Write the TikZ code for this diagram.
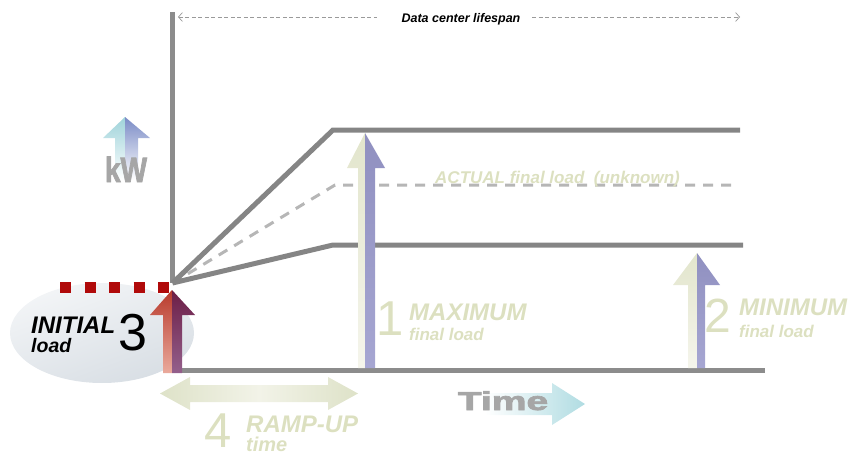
\documentclass[tikz,border=0pt]{standalone}
\usepackage{fontspec}
\setmainfont{Liberation Sans}
\newfontfamily\heavyfont{Liberation Sans}[BoldFeatures={FakeBold=2.5}]
\usetikzlibrary{arrows.meta}

\definecolor{axisgray}{HTML}{8C8C8C}
\definecolor{linegray}{HTML}{858585}
\definecolor{dashgray}{HTML}{B6B6B6}
\definecolor{spangray}{HTML}{9A9A9A}
\definecolor{pale}{HTML}{DCE0C0}
\definecolor{loadred}{HTML}{B00A0A}
\definecolor{ellA}{HTML}{F3F5F7}
\definecolor{ellB}{HTML}{D8DEE4}
\definecolor{creamA}{HTML}{E2E5CC}
\definecolor{creamB}{HTML}{F5F5EC}
\definecolor{lavA}{HTML}{9090C0}
\definecolor{lavB}{HTML}{A6A6D2}
\definecolor{redA}{HTML}{B83A2C}
\definecolor{redB}{HTML}{EAAA9C}
\definecolor{plumA}{HTML}{6C1E46}
\definecolor{plumB}{HTML}{94608C}
\definecolor{cyanA}{HTML}{9FD3DA}
\definecolor{blueA}{HTML}{7A8BC6}
\definecolor{timecyan}{HTML}{B0DCE2}
\definecolor{rampA}{HTML}{DEE2C8}
\definecolor{rampB}{HTML}{F2F3E8}
\definecolor{heavygray}{HTML}{A6A6A6}

\begin{document}
\begin{tikzpicture}[x=1pt,y=-1pt,
  axisline/.style={draw=axisgray,line width=5pt},
  graphline/.style={draw=linegray,line width=5pt},
  estline/.style={draw=dashgray,line width=3pt,dash pattern=on 10pt off 8pt},
  spanline/.style={draw=spangray,line width=0.7pt,dash pattern=on 4pt off 2.5pt},
  label/.style={inner sep=0pt,anchor=base west,text=pale},
  bignum/.style={inner sep=0pt,anchor=base,text=pale},
]
\useasboundingbox (0,0) rectangle (855,455);

% initial-load ellipse
\shade[top color=ellA,bottom color=ellB,shading angle=20] (102,333) ellipse [x radius=92, y radius=50];

% key points of the load curves
\coordinate (origin) at (172.5,283);
\coordinate (maxknee) at (333,130);
\coordinate (maxend) at (740,130);
\coordinate (estknee) at (335,185);
\coordinate (estend) at (733,185);
\coordinate (minknee) at (333,245);
\coordinate (minend) at (743,245);
\coordinate (ytop) at (172.5,12);
\coordinate (xleft) at (172,370.5);
\coordinate (xright) at (765,370.5);

% axes
\draw[axisline] (ytop) -- (origin);
\draw[axisline] (xleft) -- (xright);

% load curves
\draw[estline] (origin) -- (estknee) -- (estend);
\draw[graphline] (origin) -- (maxknee) -- (maxend);
\draw[graphline] (origin) -- (minknee) -- (minend);

% initial load marker
\draw[loadred,line width=11pt,dash pattern=on 11pt off 13.5pt] (60,287.5) -- (170,287.5);

% lifespan span
\node[inner sep=0pt,anchor=base,font={\fontsize{12.5}{14}\selectfont\bfseries\itshape}] (span) at (461,22) {Data center lifespan};
\coordinate (spanL) at (178,17);
\coordinate (spanLe) at (377,17);
\coordinate (spanRs) at (532,17);
\coordinate (spanR) at (740,17);
\draw[spanline,{Straight Barb[length=4pt,width=9pt]}-] (spanL) -- (spanLe);
\draw[spanline,-{Straight Barb[length=4pt,width=9pt]}] (spanRs) -- (spanR);

% kW arrow
\shade[top color=cyanA,bottom color=white] (125,117) -- (103,138) -- (115,138) -- (115,180) -- (125,180) -- cycle;
\shade[top color=blueA,bottom color=white] (125,117) -- (150,138) -- (138,138) -- (138,180) -- (125,180) -- cycle;
\node[inner sep=0pt,anchor=base,text=heavygray,xscale=0.8,font={\fontsize{35}{36}\heavyfont\bfseries}] (kw) at (126,182) {kW};

% maximum arrow
\shade[top color=creamA,bottom color=creamB] (365,133) -- (347,168) -- (358,168) -- (358,368) -- (365,368) -- cycle;
\shade[top color=lavA,bottom color=lavB] (365,133) -- (385,168) -- (375,168) -- (375,368) -- (365,368) -- cycle;

% minimum arrow
\shade[top color=creamA,bottom color=creamB] (697,253) -- (673,285) -- (688,285) -- (688,368) -- (697,368) -- cycle;
\shade[top color=lavA,bottom color=lavB] (697,253) -- (720,285) -- (705,285) -- (705,368) -- (697,368) -- cycle;

% initial load arrow
\shade[top color=redA,bottom color=redB] (172,290) -- (150,315) -- (163,315) -- (163,373) -- (172,373) -- cycle;
\shade[top color=plumA,bottom color=plumB] (172,290) -- (195,315) -- (182,315) -- (182,373) -- (172,373) -- cycle;

% ramp-up span
\shade[left color=rampA,right color=rampA,middle color=rampB]
  (160,393.5) -- (190,377) -- (190,385) -- (328,385) -- (328,377) -- (358,393.5)
  -- (328,410) -- (328,402) -- (190,402) -- (190,410) -- cycle;

% time arrow
\shade[left color=white,right color=timecyan] (485,393) -- (552,393) -- (552,383) -- (585,404) -- (552,425) -- (552,415) -- (485,415) -- cycle;
\node[inner sep=0pt,anchor=base,text=heavygray,xscale=1.5,font={\fontsize{26}{28}\heavyfont\bfseries}] (time) at (503,410) {Time};

% labels
\node[label,font={\fontsize{17}{18}\selectfont\bfseries\itshape}] (actual) at (435,183) {ACTUAL final load\ \ (unknown)};

\node[bignum,font={\fontsize{49}{50}\selectfont}] (n1) at (390,335) {1};
\node[label,font={\fontsize{24}{26}\selectfont\bfseries\itshape}] (maxlbl) at (409,320) {MAXIMUM};
\node[label,font={\fontsize{17}{18}\selectfont\bfseries\itshape}] (maxsub) at (409,340) {final load};

\node[bignum,font={\fontsize{48}{50}\selectfont}] (n2) at (718,332) {2};
\node[label,font={\fontsize{24}{26}\selectfont\bfseries\itshape}] (minlbl) at (739,315) {MINIMUM};
\node[label,font={\fontsize{17}{18}\selectfont\bfseries\itshape}] (minsub) at (739,337) {final load};

\node[label,text=black,font={\fontsize{24}{26}\selectfont\bfseries\itshape}] (initlbl) at (31,333) {INITIAL};
\node[label,text=black,font={\fontsize{19.5}{20}\selectfont\bfseries\itshape}] (initsub) at (31,352) {load};
\node[bignum,text=black,font={\fontsize{52}{54}\selectfont}] (n3) at (133,350) {3};

\node[bignum,font={\fontsize{49}{50}\selectfont}] (n4) at (218,447) {4};
\node[label,font={\fontsize{24}{26}\selectfont\bfseries\itshape}] (ramplbl) at (246,432) {RAMP-UP};
\node[label,font={\fontsize{20}{22}\selectfont\bfseries\itshape}] (rampsub) at (246,451) {time};
\end{tikzpicture}
\end{document}
